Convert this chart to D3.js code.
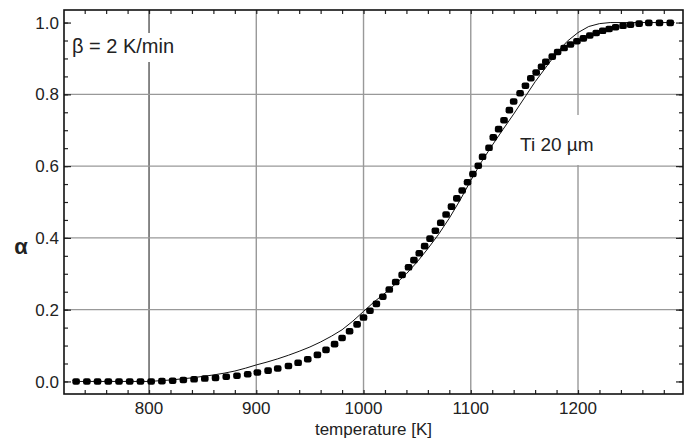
<!DOCTYPE html>
<html>
<head>
<meta charset="utf-8">
<script src="https://cdn.jsdelivr.net/npm/d3@7"></script>
<style>
  body { margin: 0; background: #fff; }
  svg { font-family: "Liberation Sans", Arial, sans-serif; }
</style>
</head>
<body>
<svg id="chart" width="693" height="446"></svg>
<script>
// measured points (temperature [K], alpha)
var tempPoints = [732, 742, 752, 762, 772, 782, 792, 802, 812, 822, 832, 842, 852, 862, 872, 882, 892,
  901, 911, 920, 930, 939, 948, 957, 965, 973, 980, 987, 994, 1000, 1006, 1012, 1018, 1024, 1030,
  1036, 1042, 1047, 1052, 1057, 1062, 1067, 1072, 1077, 1082, 1087, 1092, 1097, 1102, 1107, 1111,
  1117, 1121, 1126, 1131, 1136, 1140, 1146, 1151, 1156, 1161, 1166, 1170, 1176, 1181, 1187, 1193,
  1199, 1205, 1211, 1217, 1223, 1229, 1235, 1242, 1249, 1257, 1266, 1276, 1286];
var alphaPoints = [0, 0, 0, 0, 0, 0, 0, 0, 0.001, 0.002, 0.004, 0.006, 0.008, 0.010, 0.013, 0.016, 0.020,
  0.025, 0.030, 0.036, 0.043, 0.052, 0.062, 0.074, 0.088, 0.104, 0.121, 0.140, 0.159, 0.178, 0.197,
  0.216, 0.236, 0.256, 0.277, 0.297, 0.318, 0.338, 0.357, 0.377, 0.398, 0.420, 0.442, 0.465, 0.487,
  0.510, 0.532, 0.555, 0.578, 0.601, 0.626, 0.651, 0.680, 0.703, 0.728, 0.756, 0.780, 0.803, 0.824,
  0.845, 0.861, 0.877, 0.891, 0.905, 0.918, 0.929, 0.939, 0.948, 0.956, 0.964, 0.971, 0.977, 0.982,
  0.987, 0.991, 0.994, 0.997, 0.999, 0.999, 0.999];

// model curve
var tempModel = [735, 800, 810, 820, 830, 840, 850, 860, 870, 880, 890, 900, 910, 920, 930, 940, 950,
  960, 970, 980, 990, 1000, 1010, 1020, 1030, 1040, 1050, 1060, 1070, 1080, 1090, 1100, 1110, 1120,
  1130, 1140, 1150, 1160, 1170, 1180, 1190, 1200, 1210, 1220, 1230, 1290];
var alphaModel = [0, 0, 0.002, 0.004, 0.007, 0.010, 0.014, 0.018, 0.023, 0.029, 0.037, 0.046, 0.054,
  0.063, 0.073, 0.084, 0.096, 0.110, 0.126, 0.144, 0.168, 0.195, 0.222, 0.246, 0.272, 0.300, 0.333,
  0.370, 0.410, 0.455, 0.505, 0.560, 0.612, 0.658, 0.702, 0.745, 0.790, 0.835, 0.875, 0.915, 0.948,
  0.972, 0.989, 0.997, 1.0, 1.0];

var xTicks = [800, 900, 1000, 1100, 1200];
var yTicks = [0, 0.2, 0.4, 0.6, 0.8, 1.0];
var xLabel = "temperature [K]";
var yLabel = "\u03b1";
var rateLabel = "\u03b2 = 2 K/min";
var sampleLabel = "Ti 20 \u00b5m";

var margin = {top: 10, right: 10, bottom: 52, left: 64};
var width = 693 - margin.left - margin.right;
var height = 446 - margin.top - margin.bottom;

var svg = d3.select("#chart");
var g = svg.append("g").attr("transform", "translate(" + margin.left + "," + margin.top + ")");

var x = d3.scaleLinear().domain([720.7, 1297.9]).range([0, width]);
var y = d3.scaleLinear().domain([-0.035, 1.035]).range([height, 0]);

// grid
g.selectAll(".vgrid").data(xTicks).enter().append("line")
  .attr("x1", function(d) { return x(d); }).attr("x2", function(d) { return x(d); })
  .attr("y1", 0).attr("y2", height)
  .attr("stroke", function(d) { return d == 800 ? "#555" : "#999"; })
  .attr("stroke-width", 1.4);
g.selectAll(".hgrid").data(yTicks.filter(function(d) { return d > 0 && d < 1; })).enter().append("line")
  .attr("x1", 0).attr("x2", width)
  .attr("y1", function(d) { return y(d); }).attr("y2", function(d) { return y(d); })
  .attr("stroke", "#999").attr("stroke-width", 1.4);

// minor ticks, inward on all four sides
var xMinor = d3.range(740, 1300, 20);
var yMinor = d3.range(0, 1.0001, 0.05);
function tickAxis(axis, scale, vals, size) {
  return axis(scale).tickValues(vals).tickSize(size).tickFormat("");
}
g.append("g").attr("transform", "translate(0," + height + ")").call(tickAxis(d3.axisTop, x, xMinor, 4));
g.append("g").call(tickAxis(d3.axisBottom, x, xMinor, 4));
g.append("g").call(tickAxis(d3.axisRight, y, yMinor, 4));
g.append("g").attr("transform", "translate(" + width + ",0)").call(tickAxis(d3.axisLeft, y, yMinor, 4));
g.append("g").call(tickAxis(d3.axisRight, y, yTicks, 7));
g.append("g").attr("transform", "translate(" + width + ",0)").call(tickAxis(d3.axisLeft, y, yTicks, 7));
g.selectAll(".domain").remove();
g.selectAll(".tick line").attr("stroke", "#222").attr("stroke-width", 1.2);

// tick labels
g.selectAll(".xlab").data(xTicks).enter().append("text")
  .attr("x", function(d) { return x(d); }).attr("y", height + 20)
  .attr("text-anchor", "middle").attr("font-size", 17).attr("fill", "#222")
  .text(function(d) { return d; });
g.selectAll(".ylab").data(yTicks).enter().append("text")
  .attr("x", -5).attr("y", function(d) { return y(d); }).attr("dy", "0.36em")
  .attr("text-anchor", "end").attr("font-size", 17).attr("fill", "#222")
  .text(function(d) { return d3.format(".1f")(d); });

// annotations with white boxes over the grid
g.append("rect").attr("x", 6).attr("y", 23).attr("width", 112).attr("height", 29).attr("fill", "#fff");
g.append("text").attr("x", 8).attr("y", 43).attr("font-size", 20).attr("fill", "#222").text(rateLabel);
g.append("rect").attr("x", 453).attr("y", 105).attr("width", 86).attr("height", 50).attr("fill", "#fff");
g.append("text").attr("x", 456).attr("y", 141).attr("font-size", 19).attr("fill", "#222").text(sampleLabel);

// model line
var modelData = tempModel.map(function(t, i) { return {t: t, a: alphaModel[i]}; });
g.append("path").datum(modelData)
  .attr("fill", "none").attr("stroke", "#111").attr("stroke-width", 1)
  .attr("d", d3.line().x(function(d) { return x(d.t); }).y(function(d) { return y(d.a); }));

// measured points
var pointData = tempPoints.map(function(t, i) { return {t: t, a: alphaPoints[i]}; });
g.selectAll(".pt").data(pointData).enter().append("rect")
  .attr("x", function(d) { return x(d.t) - 3.8; })
  .attr("y", function(d) { return y(d.a) - 3.3; })
  .attr("width", 7.6).attr("height", 6.6).attr("rx", 2.2)
  .attr("fill", "#000");

// frame
g.append("rect").attr("width", width).attr("height", height)
  .attr("fill", "none").attr("stroke", "#111").attr("stroke-width", 1.6);

// axis titles
svg.append("text").attr("x", margin.left + width / 2).attr("y", 435)
  .attr("text-anchor", "middle").attr("font-size", 17).attr("fill", "#222").text(xLabel);
svg.append("text").attr("x", 21).attr("y", 254)
  .attr("text-anchor", "middle").attr("font-size", 22).attr("font-weight", "bold").attr("fill", "#222").text(yLabel);
</script>
</body>
</html>
